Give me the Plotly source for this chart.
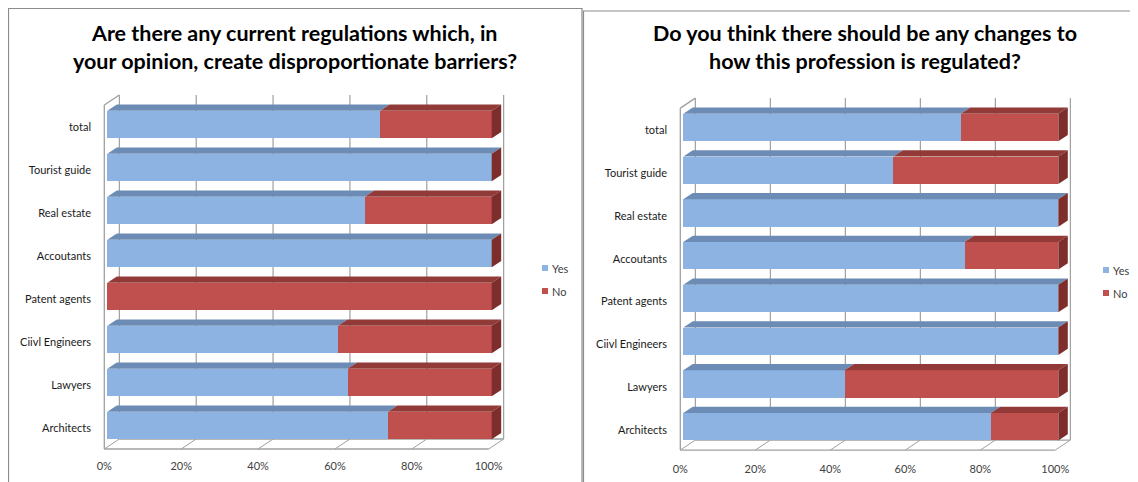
import plotly.graph_objects as go

# ---------------- data ----------------
categories = ["Architects", "Lawyers", "Ciivl Engineers", "Patent agents",
              "Accoutants", "Real estate", "Tourist guide", "total"]
barriers_yes = [0.73, 0.625, 0.60, 0.0, 1.0, 0.67, 1.0, 0.71]
barriers_no = [0.27, 0.375, 0.40, 1.0, 0.0, 0.33, 0.0, 0.29]
changes_yes = [0.82, 0.43, 1.0, 1.0, 0.75, 1.0, 0.56, 0.74]
changes_no = [0.18, 0.57, 0.0, 0.0, 0.25, 0.0, 0.44, 0.26]
tick_values = [0, 0.2, 0.4, 0.6, 0.8, 1.0]
series_names = ["Yes", "No"]
titles = [["Are there any current regulations which, in",
           "your opinion, create disproportionate barriers?"],
          ["Do you think there should be any changes to",
           "how this profession is regulated?"]]

# ---------------- style ----------------
PAGE_W, PAGE_H = 1138, 482
PAD = 8                      # default body margin of the html page
W, H = PAGE_W - PAD, PAGE_H - PAD
FONT = "Lato"
YES_FRONT, YES_TOP = "#8DB3E2", "#6C8BB5"
NO_FRONT, NO_TOP, NO_SIDE = "#C0504D", "#923A37", "#7D2E2C"
GRID, WALL = "#8C8C8C", "#A0A0A0"
BAR_W = 0.64


def fx(px):
    return (px - PAD) / W


def fy(py):
    return 1 - (py - PAD) / H


# pixel geometry (page coordinates) of the two charts (front face of the bars)
charts = [
    dict(x0=107.3, x1=491.7, c_top=124.5, c_bot=425.5, dl=96, dr=512, dt=88, db=452,
         xa="x", ya="y", panel=(8.5, 582, 8.5), center=294.5, leg=(542, 268)),
    dict(x0=683.3, x1=1058.3, c_top=127.5, c_bot=426.7, dl=672, dr=1082, dt=90, db=455,
         xa="x2", ya="y2", panel=(583.5, 1147, 11), center=865, leg=(1103, 270)),
]
data_sets = [(barriers_yes, barriers_no), (changes_yes, changes_no)]

fig = go.Figure()
shapes = []
annotations = []
layout_axes = {}
idx = list(range(len(categories)))
n = len(categories)

for k, (ch, (yes, no)) in enumerate(zip(charts, data_sets)):
    Wc = ch["x1"] - ch["x0"]
    s = (ch["c_bot"] - ch["c_top"]) / (n - 1)

    def dx(px):
        return px / Wc

    def dy(py):
        return -py / s

    xr = [(ch["dl"] - ch["x0"]) / Wc, (ch["dr"] - ch["x0"]) / Wc]
    yr = [(ch["c_bot"] - ch["db"]) / s, (ch["c_bot"] - ch["dt"]) / s]

    for name, vals, col in zip(series_names, (yes, no), (YES_FRONT, NO_FRONT)):
        fig.add_trace(go.Bar(
            y=idx, x=vals, orientation="h", name=name, width=BAR_W,
            marker=dict(color=col, line=dict(width=0)),
            xaxis=ch["xa"], yaxis=ch["ya"], showlegend=False,
            hovertemplate="%{x:.0%}<extra>" + name + "</extra>"))

    xref, yref = ch["xa"], ch["ya"]
    # walls / floor / gridlines (front plane and back plane offsets)
    f_x, f_y = dx(-3), dy(2)
    b_x, b_y = dx(12), dy(-8)
    lo, hi = -0.5, n - 0.5
    for t in tick_values:
        shapes.append(dict(type="line", xref=xref, yref=yref, layer="below",
                           x0=t + b_x, x1=t + b_x, y0=lo + b_y, y1=hi + b_y,
                           line=dict(color=GRID, width=1)))
        shapes.append(dict(type="line", xref=xref, yref=yref, layer="below",
                           x0=t + f_x, x1=t + b_x, y0=lo + f_y, y1=lo + b_y,
                           line=dict(color=WALL, width=1)))
    for seg in [((0 + f_x, lo + f_y), (1 + f_x, lo + f_y)),
                ((0 + b_x, lo + b_y), (1 + b_x, lo + b_y)),
                ((f_x, lo + f_y), (f_x, hi + f_y)),
                ((f_x, hi + f_y), (b_x, hi + b_y))]:
        shapes.append(dict(type="line", xref=xref, yref=yref, layer="below",
                           x0=seg[0][0], y0=seg[0][1], x1=seg[1][0], y1=seg[1][1],
                           line=dict(color=WALL, width=1.3)))

    # 3D faces of bars computed from the data
    ddx, ddy = dx(9.5), dy(-6.2)
    for i, (yv, nv) in enumerate(zip(yes, no)):
        top = i + BAR_W / 2
        bot = i - BAR_W / 2
        segs = [(0, yv, YES_TOP), (yv, yv + nv, NO_TOP)]
        for a, b, col in segs:
            if b - a <= 0:
                continue
            path = (f"M{a},{top} L{b},{top} L{b + ddx},{top + ddy} "
                    f"L{a + ddx},{top + ddy} Z")
            shapes.append(dict(type="path", path=path, xref=xref, yref=yref,
                               fillcolor=col, line=dict(width=0), layer="above"))
        e = yv + nv
        path = (f"M{e},{bot} L{e},{top} L{e + ddx},{top + ddy} "
                f"L{e + ddx},{bot + ddy} Z")
        shapes.append(dict(type="path", path=path, xref=xref, yref=yref,
                           fillcolor=NO_SIDE, line=dict(width=0), layer="above"))

    ax_suffix = "" if k == 0 else "2"
    layout_axes["xaxis" + ax_suffix] = dict(
        domain=[fx(ch["dl"]), fx(ch["dr"])], range=xr, anchor=ch["ya"],
        tickvals=tick_values, tickformat=".0%", showgrid=False, zeroline=False,
        showline=False, ticks="", ticklabelstandoff=6, ticklabelshift=-3,
        tickfont=dict(family=FONT, size=11, color="#404040"), fixedrange=True)
    layout_axes["yaxis" + ax_suffix] = dict(
        domain=[fy(ch["db"]), fy(ch["dt"])], range=yr, anchor=ch["xa"],
        tickvals=idx, ticktext=categories, showgrid=False, zeroline=False,
        showline=False, ticks="", ticklabelstandoff=4, ticklabelshift=3,
        tickfont=dict(family=FONT, size=11, color="#1a1a1a"), fixedrange=True)

    # panel border
    pl, pr, pt = ch["panel"]
    shapes.append(dict(type="rect", xref="paper", yref="paper",
                       x0=fx(pl), x1=fx(pr), y0=fy(pt), y1=fy(PAGE_H + 10),
                       line=dict(color="#8C8C8C", width=1.2), fillcolor="rgba(0,0,0,0)",
                       layer="below"))

    # titles
    for line_text, py in zip(titles[k], (33, 61)):
        annotations.append(dict(text=line_text, xref="paper", yref="paper",
                                x=fx(ch["center"]), y=fy(py), xanchor="center",
                                yanchor="middle", showarrow=False,
                                font=dict(family=FONT, size=21.5, color="#000000",
                                          weight="bold")))

    # legend (Yes / No)
    lx, ly = ch["leg"]
    for j, (name, col) in enumerate(zip(series_names, (YES_FRONT, NO_FRONT))):
        py = ly + j * 23
        shapes.append(dict(type="rect", xref="paper", yref="paper",
                           x0=fx(lx), x1=fx(lx + 6), y0=fy(py - 3), y1=fy(py + 3),
                           fillcolor=col, line=dict(width=0)))
        annotations.append(dict(text=name, xref="paper", yref="paper",
                                x=fx(lx + 7.5), y=fy(py), xanchor="left",
                                yanchor="middle", showarrow=False,
                                font=dict(family=FONT, size=11, color="#404040")))

fig.update_layout(
    width=W, height=H, margin=dict(l=0, r=0, t=0, b=0),
    paper_bgcolor="white", plot_bgcolor="rgba(0,0,0,0)",
    barmode="stack", bargap=0.36, showlegend=False,
    shapes=shapes, annotations=annotations,
    font=dict(family=FONT),
    **layout_axes)

fig.write_html("out.html")
